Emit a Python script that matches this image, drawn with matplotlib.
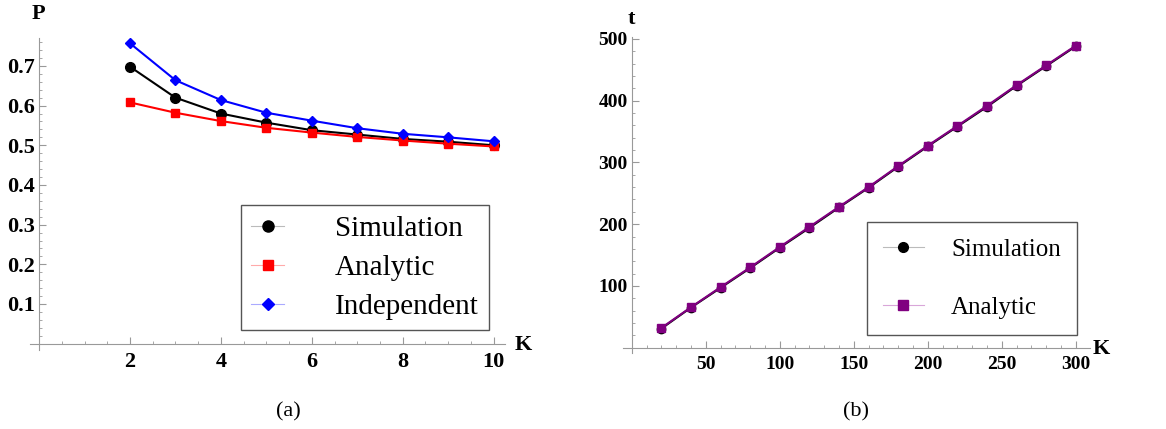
import matplotlib.pyplot as plt
from matplotlib.lines import Line2D
from matplotlib.ticker import MultipleLocator

plt.rcParams['font.family'] = ['Liberation Serif', 'DejaVu Serif']

# ==========================
# data
# ==========================

k_small = [2, 3, 4, 5, 6, 7, 8, 9, 10]
p_simulation = [0.698, 0.620, 0.580, 0.557, 0.538, 0.527, 0.516, 0.509, 0.500]
p_analytic = [0.608, 0.582, 0.561, 0.544, 0.532, 0.521, 0.512, 0.504, 0.497]
p_independent = [0.757, 0.664, 0.614, 0.582, 0.562, 0.543, 0.529, 0.520, 0.510]

k_large = [20, 40, 60, 80, 100, 120, 140, 160, 180, 200, 220, 240, 260, 280, 300]
t_simulation = [31, 65, 97, 129, 162, 194, 227, 259, 293, 326, 358, 390, 424, 456, 488]
t_analytic = [32, 65.5, 98, 130, 163, 195.5, 228, 260, 294, 327, 359, 391.5, 425, 457, 489]

AXIS_GRAY = "#999999"


def style_axes(ax, size):
    for side in ["top", "right"]:
        ax.spines[side].set_visible(False)
    ax.spines["left"].set_position(("data", 0))
    ax.spines["bottom"].set_position(("data", 0))
    ax.spines["left"].set_color(AXIS_GRAY)
    ax.spines["bottom"].set_color(AXIS_GRAY)
    ax.tick_params(which="both", direction="in", color=AXIS_GRAY,
                   labelsize=size)
    ax.tick_params(axis="y", pad=3)
    ax.tick_params(axis="x", pad=6)
    ax.tick_params(which="major", length=5)
    ax.tick_params(which="minor", length=2.5)
    for lab in ax.get_xticklabels() + ax.get_yticklabels():
        lab.set_fontweight("bold")


def legend_handle(line_col, col, marker, ms):
    return Line2D([], [], color=line_col, lw=0.8, marker=marker, ms=ms,
                  markerfacecolor=col, markeredgecolor=col)


fig = plt.figure(figsize=(11.66, 4.29), dpi=100)

# ==========================
# (a)
# ==========================

ax1 = fig.add_axes([0.0257, 0.1841, 0.4074, 0.727])
ax1.plot(k_small, p_simulation, color="black", lw=1.5, marker="o", ms=7)
ax1.plot(k_small, p_analytic, color="red", lw=1.5, marker="s", ms=6)
ax1.plot(k_small, p_independent, color="blue", lw=1.5, marker="D", ms=5)
ax1.set_xlim(-0.2, 10.25)
ax1.set_ylim(-0.016, 0.77)
ax1.set_xticks([2, 4, 6, 8, 10])
ax1.set_yticks([0.1, 0.2, 0.3, 0.4, 0.5, 0.6, 0.7])
ax1.xaxis.set_minor_locator(MultipleLocator(0.5))
ax1.yaxis.set_minor_locator(MultipleLocator(0.02))
style_axes(ax1, 16)

handles1 = [
    legend_handle("#bbbbbb", "black", "o", 8),
    legend_handle("#ffaaaa", "red", "s", 7),
    legend_handle("#aaaaff", "blue", "D", 6),
]
leg1 = ax1.legend(handles1, ["Simulation", "Analytic", "Independent"],
                  loc="lower right", bbox_to_anchor=(0.966, 0.064),
                  borderaxespad=0, fancybox=False, edgecolor="#555555",
                  framealpha=1, fontsize=21, handlelength=1.1,
                  handletextpad=1.76, labelspacing=0.43, borderpad=0.35)
leg1.get_frame().set_linewidth(1.0)

fig.text(0.0275, 0.955, "P", fontsize=16, fontweight="bold")
fig.text(0.441, 0.185, "K", fontsize=16, fontweight="bold")
fig.text(0.237, 0.03, "(a)", fontsize=16)

# ==========================
# (b)
# ==========================

ax2 = fig.add_axes([0.5343, 0.1772, 0.4005, 0.7366])
ax2.plot(k_large, t_simulation, color="black", lw=1.5, marker="o", ms=6)
ax2.plot(k_large, t_analytic, color="purple", lw=1.5, marker="s", ms=5.5)
ax2.set_xlim(-5.9, 309.6)
ax2.set_ylim(-8.5, 503)
ax2.set_xticks([50, 100, 150, 200, 250, 300])
ax2.set_yticks([100, 200, 300, 400, 500])
ax2.xaxis.set_minor_locator(MultipleLocator(10))
ax2.yaxis.set_minor_locator(MultipleLocator(20))
style_axes(ax2, 14)

handles2 = [
    legend_handle("#bbbbbb", "black", "o", 7),
    legend_handle("#d9a6d9", "purple", "s", 6.5),
]
leg2 = ax2.legend(handles2, ["Simulation", "Analytic"],
                  loc="lower right", bbox_to_anchor=(0.972, 0.057),
                  borderaxespad=0, fancybox=False, edgecolor="#555555",
                  framealpha=1, fontsize=18, handlelength=1.64,
                  handletextpad=1.08, labelspacing=1.4, borderpad=0.65)
leg2.get_frame().set_linewidth(1.0)

fig.text(0.538, 0.945, "t", fontsize=16, fontweight="bold")
fig.text(0.937, 0.175, "K", fontsize=16, fontweight="bold")
fig.text(0.723, 0.03, "(b)", fontsize=16)

fig.savefig("out.png", dpi=100)
